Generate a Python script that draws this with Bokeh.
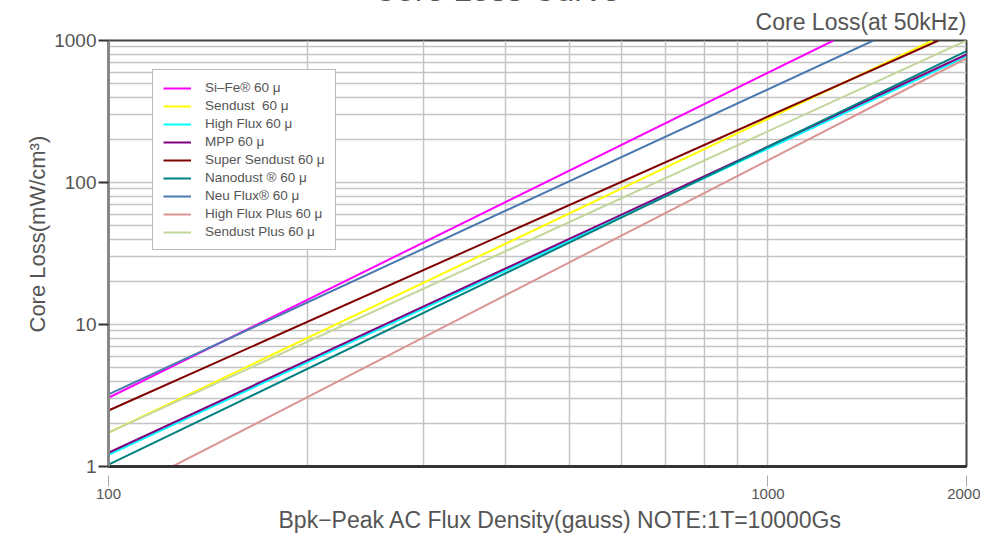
from bokeh.plotting import figure
from bokeh.models import FixedTicker, Range1d, Title
from bokeh.embed import file_html
from bokeh.resources import INLINE

# ---- data ----
series_names = ["Si–Fe® 60 μ", "Sendust  60 μ", "High Flux 60 μ", "MPP 60 μ",
                "Super Sendust 60 μ", "Nanodust ® 60 μ", "Neu Flux® 60 μ",
                "High Flux Plus 60 μ", "Sendust Plus 60 μ"]
series_colors = ["#ff00ff", "#ffff00", "#00ffff", "#800080", "#800000",
                 "#008080", "#4a78b0", "#d99694", "#c3d69b"]

sife_b = [100, 1257]
sife_loss = [3.05, 1000]
sendust_b = [100, 1776]
sendust_loss = [1.73, 1000]
highflux_b = [100, 2000]
highflux_loss = [1.21, 771]
mpp_b = [100, 2000]
mpp_loss = [1.25, 797]
supersendust_b = [100, 1814]
supersendust_loss = [2.48, 1000]
nanodust_b = [100, 2000]
nanodust_loss = [1.03, 841]
neuflux_b = [100, 1445]
neuflux_loss = [3.22, 1000]
hfplus_b = [125, 2000]
hfplus_loss = [1.0, 750]
sendustplus_b = [100, 2000]
sendustplus_loss = [1.73, 1000]

x_ticks = [100, 1000, 2000]
x_tick_labels = ["100", "1000", "2000"]
y_ticks = [1, 10, 100, 1000]
y_tick_labels = ["1", "10", "100", "1000"]

title_text = "Core Loss Curve"
subtitle_text = "Core Loss(at 50kHz)"
x_title = "Bpk−Peak AC Flux Density(gauss) NOTE:1T=10000Gs"
y_title = "Core Loss(mW/cm³)"

series_b = [sife_b, sendust_b, highflux_b, mpp_b, supersendust_b,
            nanodust_b, neuflux_b, hfplus_b, sendustplus_b]
series_loss = [sife_loss, sendust_loss, highflux_loss, mpp_loss, supersendust_loss,
               nanodust_loss, neuflux_loss, hfplus_loss, sendustplus_loss]

x_minor = [k * 100 for k in range(2, 10)]
y_minor = [k * 10 ** e for e in range(0, 3) for k in range(2, 10)]

FONT = "Liberation Sans"
TXT = "#555555"

p = figure(frame_width=858, frame_height=426, x_axis_type="log", y_axis_type="log",
           x_range=Range1d(100, 2000), y_range=Range1d(1, 1000),
           output_backend="svg", toolbar_location=None, title_location=None,
           min_border_left=108, min_border_right=14,
           min_border_top=0, min_border_bottom=70)
p.styles = {"margin-top": "-24px", "margin-bottom": "-8px"}
p.background_fill_color = "white"
p.border_fill_color = "white"
p.outline_line_color = "#444444"
p.outline_line_width = 2

# grids
p.xgrid.ticker = FixedTicker(ticks=x_ticks, minor_ticks=x_minor)
p.ygrid.ticker = FixedTicker(ticks=y_ticks, minor_ticks=y_minor)
for g in (p.xgrid, p.ygrid):
    g.grid_line_color = "#c4c4c4"
    g.grid_line_width = 1.5
    g.minor_grid_line_color = "#c4c4c4"
    g.minor_grid_line_width = 1.5

# axes
p.xaxis.ticker = FixedTicker(ticks=x_ticks)
p.yaxis.ticker = FixedTicker(ticks=y_ticks)
p.xaxis.major_label_overrides = dict(zip(x_ticks, x_tick_labels))
p.yaxis.major_label_overrides = dict(zip(y_ticks, y_tick_labels))

p.xaxis.axis_line_color = "#333333"
p.xaxis.axis_line_width = 3
p.xaxis.major_tick_in = -9
p.xaxis.major_tick_out = 20
p.xaxis.major_tick_line_color = "#aaaaaa"
p.xaxis.major_tick_line_width = 1
p.xaxis.minor_tick_line_color = None
p.xaxis.major_label_standoff = 2
p.xaxis.major_label_text_font = FONT
p.xaxis.major_label_text_font_size = "15px"
p.xaxis.major_label_text_color = TXT

p.yaxis.axis_line_color = "#888888"
p.yaxis.axis_line_width = 3
p.yaxis.major_tick_in = 0
p.yaxis.major_tick_out = 10
p.yaxis.major_tick_line_color = "#333333"
p.yaxis.major_tick_line_width = 2
p.yaxis.minor_tick_line_color = None
p.yaxis.major_label_standoff = 2
p.yaxis.major_label_text_font = FONT
p.yaxis.major_label_text_font_size = "19px"
p.yaxis.major_label_text_color = TXT

# lines
for name, color, b, loss in zip(series_names, series_colors, series_b, series_loss):
    p.line(b, loss, line_color=color, line_width=2, legend_label=name)

lg = p.legend[0]
lg.location = (44, 216)
lg.margin = 0
lg.padding = 10
lg.spacing = 3
lg.glyph_width = 28
lg.glyph_height = 14
lg.label_height = 14
lg.label_standoff = 14
lg.label_text_font = FONT
lg.label_text_font_size = "13.5px"
lg.label_text_color = TXT
lg.border_line_color = "#777777"
lg.border_line_width = 1
lg.background_fill_color = "white"
lg.background_fill_alpha = 1

# titles (panels around the frame)
p.add_layout(Title(text=subtitle_text, align="right", offset=0, standoff=12,
                   text_font=FONT, text_font_size="23px", text_font_style="normal",
                   text_color=TXT), "above")
p.add_layout(Title(text=title_text, align="left", offset=264, standoff=-15,
                   text_font=FONT, text_font_size="33px", text_font_style="normal",
                   text_color=TXT), "above")
p.add_layout(Title(text=x_title, align="left", offset=170, standoff=10,
                   vertical_align="top",
                   text_font=FONT, text_font_size="23px", text_font_style="normal",
                   text_color=TXT), "below")
p.add_layout(Title(text=y_title, align="left", offset=134, standoff=3,
                   vertical_align="bottom",
                   text_font=FONT, text_font_size="22px", text_font_style="normal",
                   text_color=TXT), "left")

open("out.html", "w").write(file_html(p, INLINE))
